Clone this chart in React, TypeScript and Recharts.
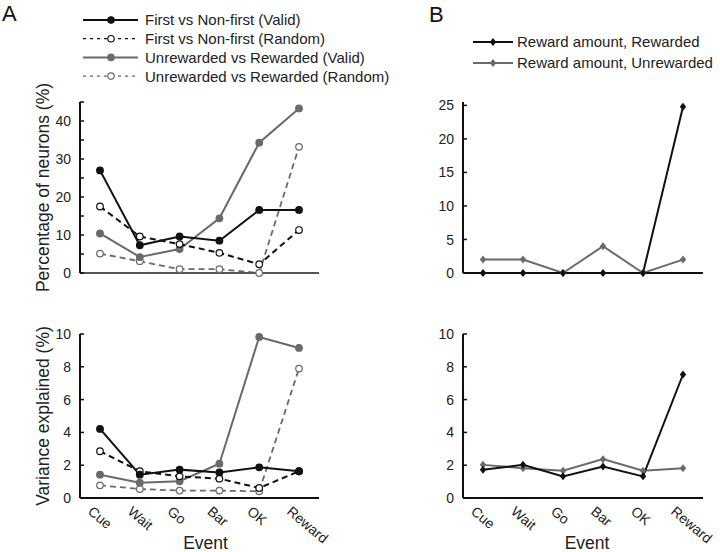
import { Label, Line, LineChart, XAxis, YAxis } from "recharts";

const FONT = "'Liberation Sans', Arial, sans-serif";
const BLACK = "#111";
const GRAY = "#6a6a6a";

const events = ["Cue", "Wait", "Go", "Bar", "OK", "Reward"];

// Panel A, percentage of neurons
const firstValidPct = [27.0, 7.3, 9.6, 8.5, 16.6, 16.6];
const firstRandomPct = [17.5, 9.6, 7.6, 5.3, 2.3, 11.3];
const unrewValidPct = [10.4, 4.2, 6.3, 14.4, 34.3, 43.3];
const unrewRandomPct = [5.1, 3.1, 1.0, 1.0, 0.0, 33.2];

// Panel A, variance explained
const firstValidVar = [4.21, 1.42, 1.73, 1.56, 1.87, 1.63];
const firstRandomVar = [2.85, 1.63, 1.32, 1.18, 0.61, 1.63];
const unrewValidVar = [1.42, 0.93, 1.02, 2.09, 9.82, 9.15];
const unrewRandomVar = [0.77, 0.55, 0.45, 0.45, 0.41, 7.89];

// Panel B
const rewardedPct = [0, 0, 0, 0, 0, 24.8];
const unrewardedPct = [2, 2, 0, 4, 0, 2];
const rewardedVar = [1.72, 2.02, 1.32, 1.92, 1.32, 7.53];
const unrewardedVar = [2.02, 1.82, 1.66, 2.37, 1.66, 1.82];

const pctTicksA = [0, 5, 10, 15, 20, 25, 30, 35, 40, 45];
const pctLabelsA = [0, 10, 20, 30, 40];
const pctTicksB = [0, 5, 10, 15, 20, 25];
const varTicks = [0, 2, 4, 6, 8, 10];

const dataA1 = events.map((e, i) => ({
  event: e,
  firstValid: firstValidPct[i],
  firstRandom: firstRandomPct[i],
  unrewValid: unrewValidPct[i],
  unrewRandom: unrewRandomPct[i],
}));
const dataA2 = events.map((e, i) => ({
  event: e,
  firstValid: firstValidVar[i],
  firstRandom: firstRandomVar[i],
  unrewValid: unrewValidVar[i],
  unrewRandom: unrewRandomVar[i],
}));
const dataB1 = events.map((e, i) => ({ event: e, rewarded: rewardedPct[i], unrewarded: unrewardedPct[i] }));
const dataB2 = events.map((e, i) => ({ event: e, rewarded: rewardedVar[i], unrewarded: unrewardedVar[i] }));

function circleDot(color: string, open: boolean) {
  return (p: any) => (
    <circle
      key={`c-${p.index}`}
      cx={p.cx}
      cy={p.cy}
      r={3.3}
      fill={open ? "#fff" : color}
      stroke={color}
      strokeWidth={1.2}
    />
  );
}

function diamondDot(color: string) {
  return (p: any) => (
    <path
      key={`d-${p.index}`}
      d={`M${p.cx},${p.cy - 4}L${p.cx + 3.2},${p.cy}L${p.cx},${p.cy + 4}L${p.cx - 3.2},${p.cy}Z`}
      fill={color}
    />
  );
}

function yTick(labeled: number[]) {
  return (p: any) => {
    const v = Number(p.payload.value);
    return (
      <g>
        <line x1={p.x} x2={p.x + 4} y1={p.y} y2={p.y} stroke={BLACK} strokeWidth={1.5} />
        {labeled.includes(v) && (
          <text x={p.x - 9} y={p.y} dy="0.36em" textAnchor="end" fontSize={14} fill="#222" fontFamily={FONT}>
            {v}
          </text>
        )}
      </g>
    );
  };
}

const xTick = (p: any) => (
  <text
    transform={`translate(${p.x - 13},${p.y + 15}) rotate(40)`}
    fontSize={14}
    fill="#222"
    fontFamily={FONT}
  >
    {p.payload.value}
  </text>
);

const titleStyle = { fontSize: 17.5, fill: "#222", fontFamily: FONT };
const xPad = { left: 20, right: 20 };

function PanelA() {
  return (
    <>
      {/* top chart starts high so the long y title fits */}
      <div style={{ position: "absolute", left: 0, top: 70 }}>
        <LineChart width={330} height={223} data={dataA1} margin={{ top: 32, right: 11, left: 0, bottom: 0 }}>
          <XAxis dataKey="event" height={20} padding={xPad} tick={false} tickLine={false} axisLine={{ stroke: "#555", strokeWidth: 2 }} />
          <YAxis
            width={80}
            domain={[0, 45]}
            ticks={pctTicksA}
            interval={0}
            tickSize={0}
            tickMargin={0}
            tickLine={false}
            tick={yTick(pctLabelsA)}
            axisLine={{ stroke: BLACK, strokeWidth: 2 }}
          >
            <Label value="Percentage of neurons (%)" angle={-90} position="center" dx={3} style={titleStyle} />
          </YAxis>
          <Line dataKey="unrewRandom" stroke={GRAY} strokeWidth={1.8} strokeDasharray="6 4" dot={circleDot(GRAY, true)} isAnimationActive={false} />
          <Line dataKey="unrewValid" stroke={GRAY} strokeWidth={2} dot={circleDot(GRAY, false)} isAnimationActive={false} />
          <Line dataKey="firstRandom" stroke={BLACK} strokeWidth={2} strokeDasharray="6 4" dot={circleDot(BLACK, true)} isAnimationActive={false} />
          <Line dataKey="firstValid" stroke={BLACK} strokeWidth={2} dot={circleDot(BLACK, false)} isAnimationActive={false} />
        </LineChart>
      </div>
      <div style={{ position: "absolute", left: 0, top: 324 }}>
        <LineChart width={345} height={228} data={dataA2} margin={{ top: 10, right: 26, left: 0, bottom: 0 }}>
          <XAxis
            dataKey="event"
            height={54}
            padding={xPad}
            tickSize={0}
            tickMargin={0}
            tickLine={false}
            interval={0}
            tick={xTick}
            axisLine={{ stroke: BLACK, strokeWidth: 2 }}
          >
            <Label value="Event" position="insideBottom" offset={3} dx={6} style={titleStyle} />
          </XAxis>
          <YAxis
            width={80}
            domain={[0, 10]}
            ticks={varTicks}
            interval={0}
            tickSize={0}
            tickMargin={0}
            tickLine={false}
            tick={yTick(varTicks)}
            axisLine={{ stroke: BLACK, strokeWidth: 2 }}
          >
            <Label value="Variance explained (%)" angle={-90} position="center" dx={3} style={titleStyle} />
          </YAxis>
          <Line dataKey="unrewRandom" stroke={GRAY} strokeWidth={1.8} strokeDasharray="6 4" dot={circleDot(GRAY, true)} isAnimationActive={false} />
          <Line dataKey="unrewValid" stroke={GRAY} strokeWidth={2} dot={circleDot(GRAY, false)} isAnimationActive={false} />
          <Line dataKey="firstRandom" stroke={BLACK} strokeWidth={2} strokeDasharray="6 4" dot={circleDot(BLACK, true)} isAnimationActive={false} />
          <Line dataKey="firstValid" stroke={BLACK} strokeWidth={2} dot={circleDot(BLACK, false)} isAnimationActive={false} />
        </LineChart>
      </div>
    </>
  );
}

function PanelB() {
  return (
    <>
      <div style={{ position: "absolute", left: 383, top: 91 }}>
        <LineChart width={330} height={192} data={dataB1} margin={{ top: 11, right: 10, left: 0, bottom: 0 }}>
          <XAxis dataKey="event" height={10} padding={xPad} tick={false} tickLine={false} axisLine={{ stroke: BLACK, strokeWidth: 2 }} />
          <YAxis
            width={80}
            domain={[0, 25.5]}
            ticks={pctTicksB}
            interval={0}
            tickSize={0}
            tickMargin={0}
            tickLine={false}
            tick={yTick(pctTicksB)}
            axisLine={{ stroke: BLACK, strokeWidth: 2 }}
          />
          <Line dataKey="unrewarded" stroke={GRAY} strokeWidth={2} dot={diamondDot(GRAY)} isAnimationActive={false} />
          <Line dataKey="rewarded" stroke={BLACK} strokeWidth={2} dot={diamondDot(BLACK)} isAnimationActive={false} />
        </LineChart>
      </div>
      <div style={{ position: "absolute", left: 383, top: 324 }}>
        <LineChart width={337} height={228} data={dataB2} margin={{ top: 10, right: 17, left: 0, bottom: 0 }}>
          <XAxis
            dataKey="event"
            height={54}
            padding={xPad}
            tickSize={0}
            tickMargin={0}
            tickLine={false}
            interval={0}
            tick={xTick}
            axisLine={{ stroke: BLACK, strokeWidth: 2 }}
          >
            <Label value="Event" position="insideBottom" offset={3} dx={4} style={titleStyle} />
          </XAxis>
          <YAxis
            width={80}
            domain={[0, 10]}
            ticks={varTicks}
            interval={0}
            tickSize={0}
            tickMargin={0}
            tickLine={false}
            tick={yTick(varTicks)}
            axisLine={{ stroke: BLACK, strokeWidth: 2 }}
          />
          <Line dataKey="unrewarded" stroke={GRAY} strokeWidth={2} dot={diamondDot(GRAY)} isAnimationActive={false} />
          <Line dataKey="rewarded" stroke={BLACK} strokeWidth={2} dot={diamondDot(BLACK)} isAnimationActive={false} />
        </LineChart>
      </div>
    </>
  );
}

const legendA = [
  { label: "First vs Non-first (Valid)", color: BLACK, dashed: false, open: false },
  { label: "First vs Non-first (Random)", color: BLACK, dashed: true, open: true },
  { label: "Unrewarded vs Rewarded (Valid)", color: GRAY, dashed: false, open: false },
  { label: "Unrewarded vs Rewarded (Random)", color: GRAY, dashed: true, open: true },
];
const legendB = [
  { label: "Reward amount, Rewarded", color: BLACK },
  { label: "Reward amount, Unrewarded", color: GRAY },
];

function Legends() {
  return (
    <svg width={720} height={90} style={{ position: "absolute", left: 0, top: 0 }} fontFamily={FONT}>
      <text x={2} y={21} fontSize={22} fill="#111">A</text>
      <text x={429} y={22} fontSize={22} fill="#111">B</text>
      {legendA.map((d, i) => {
        const y = 20 + i * 18.7;
        return (
          <g key={d.label}>
            <line x1={83} x2={138} y1={y} y2={y} stroke={d.color} strokeWidth={d.dashed ? 1.2 : 2} strokeDasharray={d.dashed ? "3 4" : undefined} />
            <circle cx={111} cy={y} r={3.2} fill={d.open ? "#fff" : d.color} stroke={d.color} strokeWidth={1.2} />
            <text x={145} y={y} dy="0.36em" fontSize={15} fill="#222">{d.label}</text>
          </g>
        );
      })}
      {legendB.map((d, i) => {
        const y = 42 + i * 21;
        return (
          <g key={d.label}>
            <line x1={473} x2={513} y1={y} y2={y} stroke={d.color} strokeWidth={2} />
            <path d={`M493,${y - 4}L496.2,${y}L493,${y + 4}L489.8,${y}Z`} fill={d.color} />
            <text x={517} y={y} dy="0.36em" fontSize={15} fill="#222">{d.label}</text>
          </g>
        );
      })}
    </svg>
  );
}

export default function App() {
  return (
    <div style={{ position: "absolute", left: 0, top: 0, width: 720, height: 552, background: "#fff", fontFamily: FONT }}>
      <PanelA />
      <PanelB />
      <Legends />
    </div>
  );
}
